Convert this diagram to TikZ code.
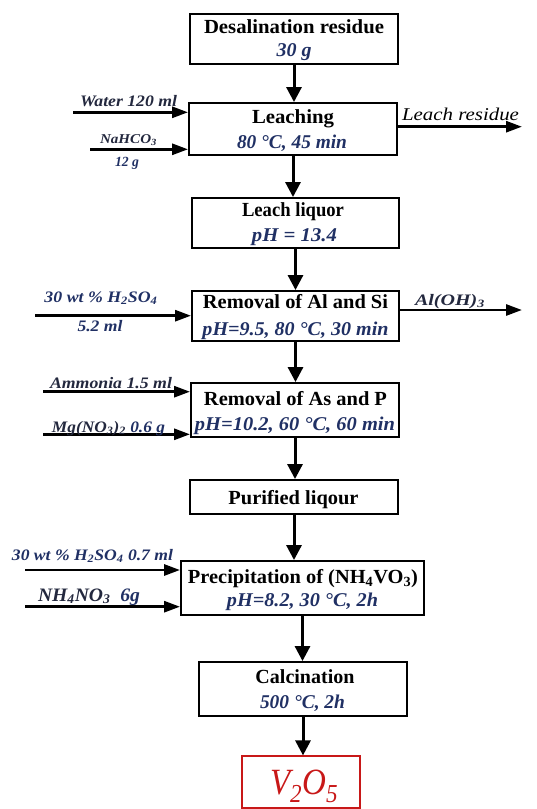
\documentclass[tikz,border=0pt]{standalone}
\usepackage{fontspec}
\setmainfont{Liberation Serif}
\usetikzlibrary{arrows.meta}
\definecolor{navy}{RGB}{32,48,100}
\definecolor{sidec}{RGB}{35,40,62}
\definecolor{vred}{RGB}{200,24,24}
\newcommand\fitto[2]{\resizebox{#1}{\height}{#2}}
\newcommand\chsub[1]{\textsubscript{#1}}
\tikzset{
  pbox/.style={draw, line width=1.9pt, inner sep=0pt},
  ttl/.style={anchor=base, inner sep=0pt, font=\bfseries\fontsize{20}{20}\selectfont},
  subt/.style={anchor=base, inner sep=0pt, text=navy, font=\bfseries\itshape\fontsize{19.5}{20}\selectfont},
  side/.style={anchor=base, inner sep=0pt, text=sidec, font=\bfseries\itshape\fontsize{16}{17}\selectfont},
  arr/.style={line width=3pt, -{Triangle[length=15pt,width=15pt]}},
  harr/.style={line width=2.8pt, -{Triangle[length=16pt,width=11pt]}},
}
\begin{document}
\begin{tikzpicture}[x=1pt,y=-1pt]
\useasboundingbox (0,0) rectangle (536,809);
% boxes
\node[pbox, minimum width=208pt, minimum height=50pt] (b1) at (294,39) {};
\node[pbox, minimum width=208pt, minimum height=52pt] (b2) at (293,129) {};
\node[pbox, minimum width=207pt, minimum height=50pt] (b3) at (295.5,223) {};
\node[pbox, minimum width=207pt, minimum height=50pt] (b4) at (295.5,316) {};
\node[pbox, minimum width=208pt, minimum height=54pt] (b5) at (295,410) {};
\node[pbox, minimum width=208pt, minimum height=34pt] (b6) at (294,497) {};
\node[pbox, minimum width=243pt, minimum height=54pt] (b7) at (302.5,588) {};
\node[pbox, minimum width=208pt, minimum height=54pt] (b8) at (303,689) {};
\node[draw=vred, line width=1.2pt, inner sep=0pt, minimum width=118pt, minimum height=52pt] (b9) at (301,782) {};
% box texts
\node[ttl] (t1) at (294,33) {\fitto{180pt}{Desalination residue}};
\node[subt] (s1) at (294,56.5) {\fitto{35pt}{30 g}};
\node[ttl] (t2) at (293,123.5) {\fitto{82pt}{Leaching}};
\node[subt] (s2) at (292,148.5) {\fitto{110pt}{80 °C, 45 min}};
\node[ttl] (t3) at (293,216.5) {\fitto{102pt}{Leach liquor}};
\node[subt] (s3) at (294.5,241.5) {\fitto{85pt}{pH = 13.4}};
\node[ttl] (t4) at (295.5,308.5) {\fitto{185pt}{Removal of Al and Si}};
\node[subt] (s4) at (295.5,335.5) {\fitto{186pt}{pH=9.5, 80 °C, 30 min}};
\node[ttl] (t5) at (295.5,405) {\fitto{183pt}{Removal of As and P}};
\node[subt] (s5) at (295,430.5) {\fitto{200pt}{pH=10.2, 60 °C, 60 min}};
\node[ttl] (t6) at (293.5,504) {\fitto{130pt}{Purified liqour}};
\node[ttl] (t7) at (303,583.5) {\fitto{230pt}{Precipitation of (NH\chsub{4}VO\chsub{3})}};
\node[subt] (s7) at (302.5,606.5) {\fitto{151pt}{pH=8.2, 30 °C, 2h}};
\node[ttl] (t8) at (305,683.5) {\fitto{99pt}{Calcination}};
\node[subt] (s8) at (302.5,708.5) {\fitto{85pt}{500 °C, 2h}};
\node[anchor=base, inner sep=0pt, text=vred, font=\itshape\fontsize{37}{37}\selectfont] (t9) at (304,794) {\fitto{68pt}{V\chsub{2}O\chsub{5}}};
% main flow arrows
\draw[arr] (b1.south) -- (b1.south |- b2.north);
\draw[arr] (b2.south) -- (b2.south |- b3.north);
\draw[arr] (b3.south) -- (b3.south |- b4.north);
\draw[arr] (b4.south) -- (b4.south |- b5.north);
\draw[arr] (b5.south) -- (b5.south |- b6.north);
\draw[arr] (b6.south) -- (b6.south |- b7.north);
\draw[arr] (b7.south) -- (b7.south |- b8.north);
\draw[arr] (b8.south) -- (b8.south |- b9.north);
% input arrows
\coordinate (i1) at (73,112.3);
\coordinate (i2) at (90,149.3);
\coordinate (i3) at (35,315.7);
\coordinate (i4) at (43,391.7);
\coordinate (i5) at (43,434.3);
\coordinate (i6) at (25,570);
\coordinate (i7) at (25,606.7);
\draw[harr] (i1) -- (i1 -| b2.west);
\draw[harr] (i2) -- (i2 -| b2.west);
\draw[harr] (i3) -- (i3 -| b4.west);
\draw[harr] (i4) -- (i4 -| b5.west);
\draw[harr] (i5) -- (i5 -| b5.west);
\draw[harr] (i6) -- (i6 -| b7.west);
\draw[harr] (i7) -- (i7 -| b7.west);
% output arrows
\coordinate (o1) at (522,126.7);
\coordinate (o2) at (522,310);
\draw[harr] (o1 -| b2.east) -- (o1);
\draw[harr] (o2 -| b4.east) -- (o2);
% side labels
\node[side] (l1) at (128.5,106) {\fitto{97pt}{Water 120 ml}};
\node[side, font=\bfseries\itshape\fontsize{13.5}{14}\selectfont] (l2) at (128.5,143) {\fitto{57pt}{NaHCO\chsub{3}}};
\node[side, font=\bfseries\itshape\fontsize{14}{14}\selectfont, text=navy] (l3) at (127,166) {\fitto{24pt}{12 g}};
\node[anchor=base, inner sep=0pt, font=\itshape\fontsize{18}{18}\selectfont] (l4) at (460.5,120) {\fitto{117pt}{Leach residue}};
\node[side, text=navy] (l5) at (101,302) {\fitto{113pt}{30 wt \% H\chsub{2}SO\chsub{4}}};
\node[side, text=navy] (l6) at (100,331.5) {\fitto{45pt}{5.2 ml}};
\node[side] (l7) at (450,305) {\fitto{70pt}{Al(OH)\chsub{3}}};
\node[side] (l8) at (111,388) {\fitto{122pt}{Ammonia 1.5 ml}};
\node[side] (l9) at (108.5,432) {\fitto{113pt}{Mg(NO\chsub{3})\chsub{2} \textcolor{navy}{0.6 g}}};
\node[side, text=navy] (l10) at (92.5,560) {\fitto{161pt}{30 wt \% H\chsub{2}SO\chsub{4} 0.7 ml}};
\node[side, font=\bfseries\itshape\fontsize{19}{19}\selectfont] (l11) at (89,601) {\fitto{102pt}{NH\chsub{4}NO\chsub{3}\ \ \textcolor{navy}{6g}}};
\end{tikzpicture}
\end{document}
